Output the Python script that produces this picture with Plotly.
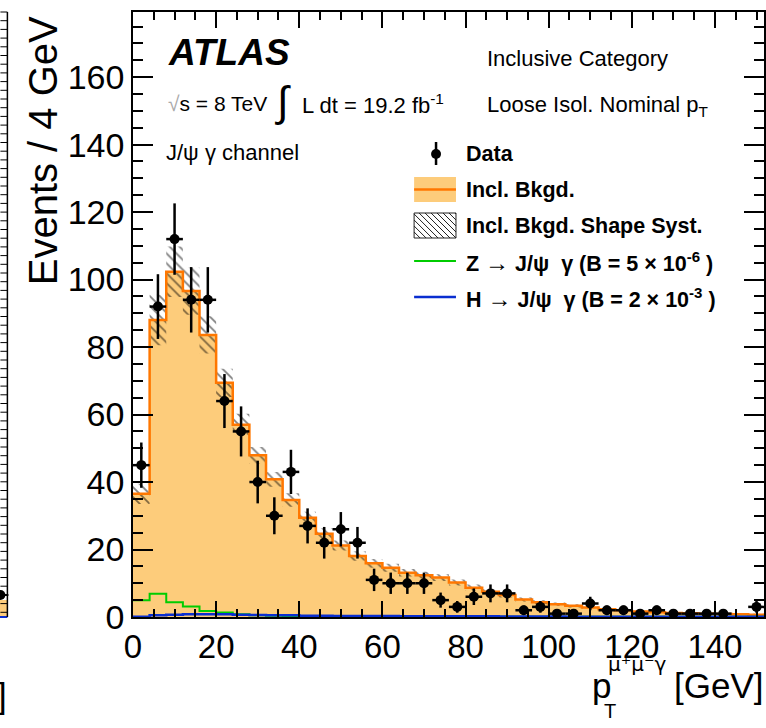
import numpy as np
import plotly.graph_objects as go

# ---------------- data ----------------
bin_edges = list(range(0, 156, 4))          # 0 ... 152 GeV, 4 GeV bins
bin_centers = [e + 2 for e in bin_edges[:-1]]

bkg = [36.5, 88, 102.3, 96.6, 83.6, 69.4, 57, 47.9, 40.8, 34.7, 29.4, 24.7, 21.2,
       18.1, 15.9, 14.6, 13.1, 12.4, 11.7, 10.2, 8.7, 7.5, 6.5, 5.2, 4.4, 3.8, 3.3,
       2.8, 2.3, 2.0, 1.6, 1.4, 1.2, 1.1, 1.0, 0.9, 0.8, 0.7]
bkg_syst = [3, 7.5, 7.5, 7, 5.5, 4.2, 3.2, 2.5, 2.2, 2.0, 1.8, 1.6, 1.5, 1.4, 1.3,
            1.2, 1.1, 1.0, 1.0, 0.9, 0.9, 0.8, 0.7, 0.6, 0.6, 0.5, 0.5, 0.4, 0.4,
            0.4, 0.3, 0.3, 0.3, 0.3, 0.3, 0.3, 0.3, 0.3]
z_sig = [5.0, 6.9, 4.4, 3.1, 1.8, 1.3, 0.8, 0.5, 0.35, 0.25, 0.2, 0.15, 0.1, 0.1,
         0.08, 0.06, 0.05, 0.05, 0.05, 0.05, 0.05, 0.05, 0.05, 0.05, 0.05, 0.05,
         0.05, 0.05, 0.05, 0.05, 0.05, 0.05, 0.05, 0.05, 0.05, 0.05, 0.05, 0.05]
h_sig = [0.1, 0.5, 0.7, 0.8, 0.8, 0.8, 0.7, 0.6, 0.5, 0.5, 0.4, 0.4, 0.3, 0.3, 0.3,
         0.3, 0.25, 0.25, 0.2, 0.2, 0.2, 0.2, 0.15, 0.15, 0.15, 0.15, 0.1, 0.1,
         0.1, 0.1, 0.1, 0.1, 0.1, 0.1, 0.1, 0.1, 0.1, 0.1]
data = [45, 92, 112, 94, 94, 64, 55, 40, 30, 43, 27, 22, 26, 22, 11, 10, 10, 10,
        5, 3, 6, 7, 7, 2, 3, 1, 1, 4, 2, 2, 1, 2, 1, 1, 1, 1, None, 3]

x_ticks = [0, 20, 40, 60, 80, 100, 120, 140]
y_ticks = [0, 20, 40, 60, 80, 100, 120, 140, 160]

# ---------------- styling ----------------
FONT = "Liberation Sans, Arial, Helvetica, sans-serif"
ORANGE_FILL = "#FDCC7B"
ORANGE_LINE = "#FF7700"
GREEN = "#00CC00"
BLUE = "#0A2ED0"

W, H = 766, 728
L, T, R, B = 133, 12, 766, 617


def px(x):
    return (x - L) / (R - L)


def py(y):
    return (B - y) / (B - T)


def step(vals):
    return list(vals) + [vals[-1]]


bkg_arr = np.array(bkg, dtype=float)
syst_arr = np.array(bkg_syst, dtype=float)
data_arr = np.array([np.nan if v is None else v for v in data], dtype=float)

fig = go.Figure()

# background fill
fig.add_trace(go.Scatter(x=bin_edges, y=step(bkg), mode="lines", line_shape="hv",
                         line=dict(width=0, color=ORANGE_FILL), fill="tozeroy",
                         fillcolor=ORANGE_FILL, showlegend=False, hoverinfo="skip"))
# shape systematic band (hatched)
fig.add_trace(go.Scatter(x=bin_edges, y=step(bkg_arr - syst_arr), mode="lines",
                         line_shape="hv", line=dict(width=0, color="rgba(0,0,0,0)"),
                         showlegend=False, hoverinfo="skip"))
fig.add_trace(go.Scatter(x=bin_edges, y=step(bkg_arr + syst_arr), mode="lines",
                         line_shape="hv", line=dict(width=0, color="rgba(0,0,0,0)"),
                         fill="tonexty", fillcolor="rgba(0,0,0,0)",
                         fillpattern=dict(shape="\\", fgcolor="black",
                                          bgcolor="rgba(0,0,0,0)", size=7,
                                          solidity=0.25),
                         showlegend=False, hoverinfo="skip"))
# background line
fig.add_trace(go.Scatter(x=bin_edges, y=step(bkg), mode="lines", line_shape="hv",
                         line=dict(width=2.5, color=ORANGE_LINE),
                         showlegend=False, hoverinfo="skip"))
# signals
fig.add_trace(go.Scatter(x=bin_edges, y=step(z_sig), mode="lines", line_shape="hv",
                         line=dict(width=2, color=GREEN), showlegend=False))
fig.add_trace(go.Scatter(x=bin_edges, y=step(h_sig), mode="lines", line_shape="hv",
                         line=dict(width=2.5, color=BLUE), showlegend=False))
# data
fig.add_trace(go.Scatter(x=bin_centers, y=data_arr, mode="markers",
                         marker=dict(size=10, color="black"),
                         error_y=dict(type="data", array=np.sqrt(data_arr),
                                      color="black", thickness=2.5, width=0),
                         error_x=dict(type="constant", value=2, color="black",
                                      thickness=2.5, width=0),
                         showlegend=False))

# ---------------- annotations ----------------
ann = []


def text(x, y, s, size=22, xanchor="left", yanchor="middle", color="black",
         angle=0, family=FONT):
    ann.append(dict(x=px(x), y=py(y), xref="paper", yref="paper", text=s,
                    showarrow=False, xanchor=xanchor, yanchor=yanchor,
                    textangle=angle, font=dict(family=family, size=size, color=color)))


text(166, 53, "<b><i>ATLAS</i></b>", size=37)
text(166, 104, "<span style='color:#aaaaaa'>√</span>s = 8 TeV", size=21)
text(283, 101, "∫", size=42, xanchor="center")
text(301, 104, "L dt = 19.2 fb<sup>-1</sup>", size=22)
text(164, 152, "J/ψ γ channel", size=22)
text(486, 58, "Inclusive Category", size=22)
text(486, 106, "Loose Isol. Nominal p<sub>T</sub>", size=22)

leg_x = 465
text(leg_x, 154, "<b>Data</b>", size=21.5)
text(leg_x, 190, "<b>Incl. Bkgd.</b>", size=21.5)
text(leg_x, 226, "<b>Incl. Bkgd. Shape Syst.</b>", size=21.5)
text(leg_x, 262, "<b>Z <span style='font-size:24px'>→</span> J/ψ  γ (B = 5 × 10<sup>-6</sup> )</b>", size=21.5)
text(leg_x, 298, "<b>H <span style='font-size:24px'>→</span> J/ψ  γ (B = 2 × 10<sup>-3</sup> )</b>", size=21.5)

# axis titles
text(43, 151, "Events / 4 GeV", size=40, xanchor="center", angle=-90)
text(767, 685, "[GeV]", size=35, xanchor="right")
text(591, 685, "p", size=35, xanchor="left")
text(603, 711, "T", size=20, xanchor="left")
text(608, 664, "μ⁺μ⁻γ", size=20, xanchor="left", family="DejaVu Sans, sans-serif")
# sliver of the neighbouring panel
text(9, 695, "]", size=35, xanchor="right")

# ---------------- legend glyphs / decorations (shapes) ----------------
shapes = []


def line(x0, y0, x1, y1, color="black", width=1.0):
    shapes.append(dict(type="line", xref="paper", yref="paper", x0=px(x0), y0=py(y0),
                       x1=px(x1), y1=py(y1), line=dict(color=color, width=width)))


def rect(x0, y0, x1, y1, fill, color, width):
    shapes.append(dict(type="rect", xref="paper", yref="paper", x0=px(x0), y0=py(y0),
                       x1=px(x1), y1=py(y1), fillcolor=fill,
                       line=dict(color=color, width=width)))


# Data glyph
line(437, 142, 437, 165, width=2.5)
shapes.append(dict(type="circle", xref="paper", yref="paper", x0=px(432), x1=px(442),
                   y0=py(149), y1=py(159), fillcolor="black", line=dict(width=0)))
# Incl. Bkgd glyph
rect(415, 177, 457, 202, ORANGE_FILL, ORANGE_FILL, 0)
line(415, 189.5, 457, 189.5, color=ORANGE_LINE, width=2.5)
# hatched glyph
hx0, hx1, hy0, hy1 = 415, 457, 213, 238
hh = hy1 - hy0
c = hx0 - hh
while c < hx1:
    xs, ys = c, hy0
    xe, ye = c + hh, hy1
    if xs < hx0:
        ys = hy0 + (hx0 - xs)
        xs = hx0
    if xe > hx1:
        ye = hy1 - (xe - hx1)
        xe = hx1
    if xe > xs:
        line(xs, ys, xe, ye, color="#222222", width=1)
    c += 6
rect(hx0, hy0, hx1, hy1, "rgba(0,0,0,0)", "#222222", 1)
# signal glyphs
line(415, 261, 457, 261, color=GREEN, width=2)
line(415, 297, 457, 297, color=BLUE, width=2.5)

# neighbouring panel sliver at the far left
rect(-2, 600, 7, 617, ORANGE_FILL, ORANGE_FILL, 0)
line(-2, 617, 7, 617, color=BLUE, width=2)
line(7, 12, 7, 617, width=1.5)
ty = 12.0
while ty <= 617:
    line(0, ty, 7, ty, width=1)
    ty += 8.7
shapes.append(dict(type="circle", xref="paper", yref="paper", x0=px(-5), x1=px(5),
                   y0=py(590), y1=py(600), fillcolor="black", line=dict(width=0)))
line(0, 595, 8, 595, width=2)

# ---------------- layout ----------------
fig.update_layout(
    width=W, height=H,
    margin=dict(l=L, r=W - R, t=T, b=H - B, pad=0),
    paper_bgcolor="white", plot_bgcolor="white",
    font=dict(family=FONT, color="black"),
    annotations=ann, shapes=shapes,
    xaxis=dict(range=[0, 151.8], showgrid=False, zeroline=False,
               showline=True, linecolor="black", linewidth=1.5, mirror="ticks",
               ticks="inside", ticklen=16, tickwidth=1.5, tickcolor="black",
               tickvals=x_ticks, ticktext=[str(v) for v in x_ticks],
               tickfont=dict(size=33, family=FONT),
               minor=dict(ticks="inside", dtick=5, tick0=0, ticklen=8,
                          tickwidth=1.5, tickcolor="black", showgrid=False)),
    yaxis=dict(range=[0, 179.3], showgrid=False, zeroline=False,
               showline=True, linecolor="black", linewidth=1.5, mirror="ticks",
               ticks="inside", ticklen=20, tickwidth=1.5, tickcolor="black",
               tickvals=y_ticks, ticktext=[str(v) for v in y_ticks],
               tickfont=dict(size=34, family=FONT),
               minor=dict(ticks="inside", dtick=5, tick0=0, ticklen=10,
                          tickwidth=1.5, tickcolor="black", showgrid=False)),
)

fig.write_html("out.html")
